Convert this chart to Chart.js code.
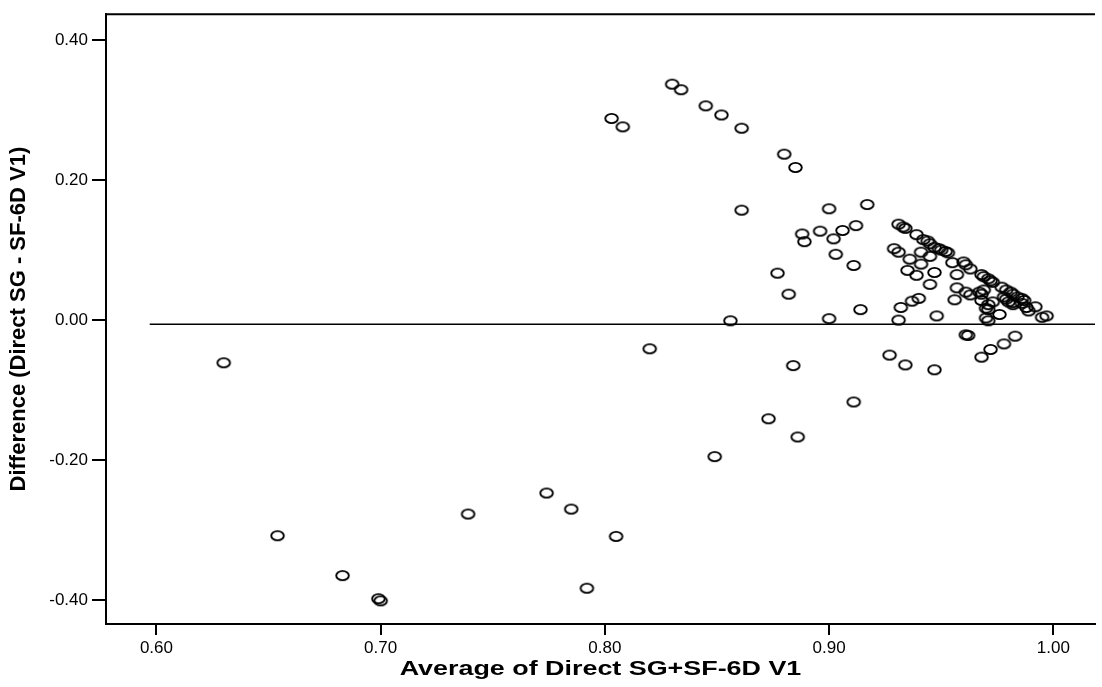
<!DOCTYPE html>
<html>
<head>
<meta charset="utf-8">
<script src="https://cdn.jsdelivr.net/npm/chart.js@4.4.1/dist/chart.umd.min.js"></script>
<style>
  body { margin: 0; background: #fff; }
</style>
</head>
<body>
<canvas id="baChart" width="1102" height="687"></canvas>
<script>
// Bland-Altman: average vs difference (Direct SG - SF-6D V1)
const avgValues = [
  0.630, 0.654, 0.683, 0.699, 0.700, 0.739, 0.774, 0.785, 0.805, 0.792, 0.820,
  0.803, 0.808, 0.830, 0.834, 0.845, 0.852, 0.861, 0.861, 0.849,
  0.856, 0.884, 0.900, 0.914, 0.932, 0.931, 0.948, 0.927, 0.934, 0.947, 0.961, 0.962, 0.968, 0.972, 0.970, 0.971, 0.911, 0.873, 0.886, 0.978, 0.983,
  0.880, 0.885, 0.900, 0.917, 0.888, 0.889, 0.896, 0.902, 0.906, 0.912, 0.903, 0.911, 0.877, 0.882, 0.937, 0.940,
  0.931, 0.933, 0.934, 0.939, 0.942, 0.944, 0.945, 0.947, 0.949, 0.950, 0.952, 0.953,
  0.929, 0.931, 0.936, 0.941, 0.945, 0.941, 0.935, 0.939, 0.947, 0.945, 0.955, 0.957, 0.960, 0.961, 0.963, 0.957, 0.961, 0.963, 0.956,
  0.968, 0.969, 0.971, 0.972, 0.973, 0.977, 0.979, 0.981, 0.982, 0.984, 0.986, 0.987, 0.992, 0.995, 0.997,
  0.967, 0.968, 0.969, 0.968, 0.971, 0.970, 0.971, 0.973, 0.978, 0.979, 0.980, 0.982, 0.982, 0.986, 0.988, 0.989, 0.976
];
const diffValues = [
  -0.061, -0.308, -0.365, -0.398, -0.401, -0.277, -0.247, -0.270, -0.309, -0.383, -0.041,
  0.288, 0.276, 0.337, 0.329, 0.306, 0.293, 0.274, 0.157, -0.195,
  -0.001, -0.065, 0.002, 0.015, 0.018, 0.000, 0.006, -0.050, -0.064, -0.071, -0.021, -0.022, -0.053, -0.042, 0.003, -0.001, -0.117, -0.141, -0.167, -0.034, -0.023,
  0.237, 0.218, 0.159, 0.165, 0.123, 0.112, 0.127, 0.116, 0.128, 0.135, 0.094, 0.078, 0.067, 0.037, 0.027, 0.031,
  0.137, 0.133, 0.131, 0.122, 0.115, 0.113, 0.109, 0.104, 0.102, 0.100, 0.098, 0.096,
  0.102, 0.097, 0.087, 0.097, 0.091, 0.080, 0.071, 0.064, 0.068, 0.051, 0.082, 0.065, 0.083, 0.079, 0.073, 0.046, 0.040, 0.036, 0.029,
  0.065, 0.062, 0.059, 0.056, 0.054, 0.047, 0.043, 0.040, 0.037, 0.033, 0.031, 0.028, 0.019, 0.004, 0.006,
  0.040, 0.037, 0.043, 0.028, 0.022, 0.017, 0.015, 0.026, 0.033, 0.030, 0.026, 0.025, 0.022, 0.024, 0.018, 0.013, 0.008
];
const xTicks = [0.60, 0.70, 0.80, 0.90, 1.00];
const yTicks = [0.40, 0.20, 0.00, -0.20, -0.40];
const meanDiff = -0.006;
const meanLineX = [0.597, 1.0186];
const xTitle = 'Average of Direct SG+SF-6D V1';
const yTitle = 'Difference (Direct SG - SF-6D V1)';

// open ellipse marker like the SPSS plot
const ring = document.createElement('canvas');
ring.width = 17;
ring.height = 13;
const rc = ring.getContext('2d');
rc.strokeStyle = '#000';
rc.lineWidth = 1.9;
rc.beginPath();
rc.ellipse(8.5, 6.5, 6.3, 4.6, 0, 0, Math.PI * 2);
rc.stroke();

const font = '"Liberation Sans", Arial, sans-serif';

// top frame line + the (wide) x axis title
const frame = {
  id: 'frame',
  afterDraw(chart) {
    const { ctx, chartArea } = chart;
    ctx.save();
    ctx.strokeStyle = '#000';
    ctx.lineWidth = 2;
    ctx.beginPath();
    ctx.moveTo(chartArea.left - 1, chartArea.top);
    ctx.lineTo(chartArea.right, chartArea.top);
    ctx.stroke();

    ctx.fillStyle = '#000';
    ctx.font = 'bold 21px ' + font;
    ctx.textAlign = 'center';
    ctx.textBaseline = 'middle';
    ctx.translate((chartArea.left + chartArea.right) / 2, 669);
    ctx.scale(1.28, 1);
    ctx.fillText(xTitle, 0, 0);
    ctx.restore();
  }
};

new Chart(document.getElementById('baChart'), {
  type: 'scatter',
  data: {
    datasets: [{
      data: avgValues.map((v, i) => ({ x: v, y: diffValues[i] })),
      pointStyle: ring,
      pointRadius: 6,
      order: 1
    }, {
      type: 'line',
      data: meanLineX.map(x => ({ x: x, y: meanDiff })),
      borderColor: '#000',
      borderWidth: 1.4,
      pointRadius: 0,
      fill: false,
      order: 2
    }]
  },
  options: {
    responsive: false,
    animation: false,
    layout: { padding: { top: 11, right: 0, left: 0, bottom: 0 } },
    plugins: { legend: { display: false }, tooltip: { enabled: false } },
    scales: {
      x: {
        type: 'linear',
        min: 0.5775,
        max: 1.0186,
        afterFit: s => { s.height = 63; },
        afterBuildTicks: s => { s.ticks = xTicks.map(v => ({ value: v })); },
        border: { display: true, color: '#000', width: 2 },
        grid: { drawOnChartArea: false, drawTicks: true, tickLength: 11, color: '#000', lineWidth: 2 },
        ticks: {
          color: '#000', padding: 3,
          font: { family: font, size: 17 },
          callback: v => v.toFixed(2)
        }
      },
      y: {
        type: 'linear',
        min: -0.4341,
        max: 0.4369,
        afterFit: s => { s.width = 106; },
        afterBuildTicks: s => { s.ticks = yTicks.map(v => ({ value: v })); },
        border: { display: true, color: '#000', width: 2 },
        grid: { drawOnChartArea: false, drawTicks: true, tickLength: 14, color: '#000', lineWidth: 2 },
        ticks: {
          color: '#000', padding: 4,
          font: { family: font, size: 17 },
          callback: v => v.toFixed(2)
        },
        title: {
          display: true,
          text: yTitle,
          color: '#000',
          font: { family: font, size: 22, weight: 'bold' },
          padding: { top: 6, bottom: 0 }
        }
      }
    }
  },
  plugins: [frame]
});
</script>
</body>
</html>
